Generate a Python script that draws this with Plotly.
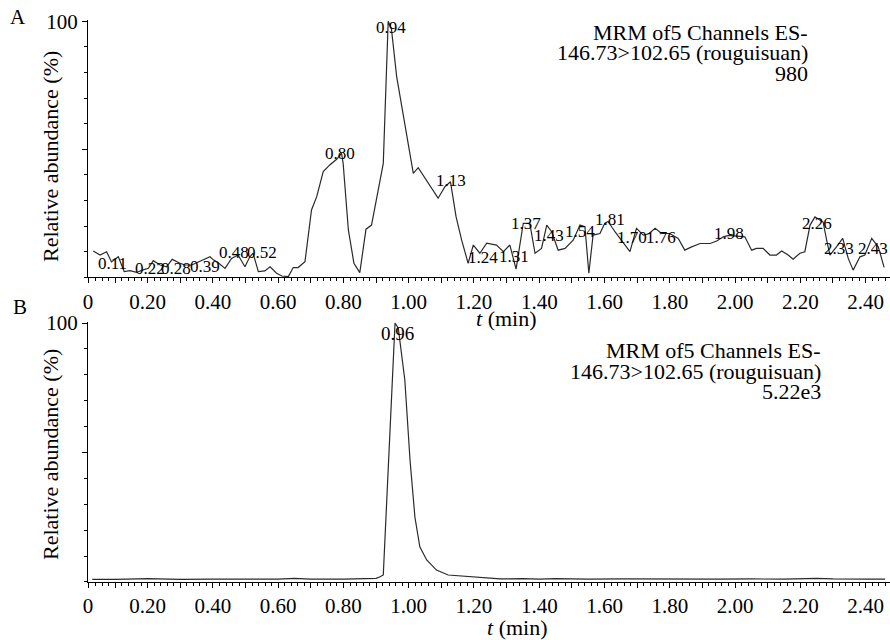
import plotly.graph_objects as go

# ---------------- data: panel A (noisy chromatogram) ----------------
a_time = [0.033, 0.054, 0.074, 0.089, 0.110, 0.128, 0.146, 0.166, 0.186, 0.202,
          0.217, 0.238, 0.258, 0.275, 0.299, 0.314, 0.335, 0.360, 0.381, 0.391,
          0.401, 0.416, 0.437, 0.457, 0.477, 0.498, 0.513, 0.523, 0.539, 0.559,
          0.575, 0.595, 0.611, 0.631, 0.646, 0.661, 0.682, 0.702, 0.718, 0.738,
          0.758, 0.779, 0.794, 0.799, 0.815, 0.832, 0.850, 0.869, 0.886, 0.903,
          0.922, 0.937, 0.947, 0.963, 0.988, 1.014, 1.029, 1.060, 1.090, 1.111,
          1.128, 1.145, 1.162, 1.182, 1.198, 1.218, 1.239, 1.269, 1.290, 1.310,
          1.329, 1.351, 1.371, 1.387, 1.407, 1.423, 1.438, 1.458, 1.479, 1.504,
          1.525, 1.540, 1.552, 1.565, 1.586, 1.601, 1.611, 1.632, 1.652, 1.678,
          1.698, 1.719, 1.736, 1.755, 1.775, 1.800, 1.826, 1.846, 1.867, 1.893,
          1.924, 1.944, 1.964, 1.981, 2.030, 2.051, 2.066, 2.086, 2.107, 2.127,
          2.143, 2.163, 2.178, 2.199, 2.214, 2.230, 2.245, 2.270, 2.281, 2.291,
          2.311, 2.330, 2.347, 2.362, 2.383, 2.398, 2.419, 2.439, 2.457]
a_abund = [10.3, 8.7, 10.0, 6.0, 8.0, 2.2, 2.6, 1.9, 2.9, 3.5,
           6.5, 4.8, 4.1, 7.0, 5.5, 4.8, 4.8, 6.1, 7.4, 8.0,
           6.8, 5.7, 3.5, 7.4, 8.7, 4.1, 8.0, 9.4, 2.2, 2.5,
           4.1, 1.6, 0.5, 0.3, 3.8, 3.8, 6.1, 26.3, 31.5, 41.3,
           43.9, 46.1, 48.4, 44.5, 18.5, 5.5, 1.8, 18.8, 20.4, 32.0,
           44.5, 100.0, 97.0, 78.4, 60.0, 40.6, 42.8, 36.7, 30.9, 35.4,
           37.3, 23.7, 14.6, 5.5, 12.6, 9.4, 13.3, 12.6, 10.0, 12.6,
           3.2, 21.1, 21.1, 9.4, 11.3, 20.4, 17.8, 10.6, 11.3, 14.5,
           20.4, 19.8, 1.6, 16.5, 17.1, 21.1, 21.8, 17.8, 14.5, 10.0,
           19.1, 16.5, 17.0, 19.1, 17.1, 17.1, 15.2, 10.6, 11.9, 13.2,
           13.2, 14.2, 15.8, 16.4, 15.8, 10.6, 11.3, 11.3, 8.7, 8.7,
           10.3, 8.7, 7.1, 9.4, 10.0, 20.4, 23.6, 21.6, 14.4, 8.7,
           11.9, 15.2, 7.4, 2.8, 8.0, 8.7, 15.2, 11.9, 3.9]

# peak labels of panel A (text, label position)
a_label_text = ["0.11", "0.22", "0.28", "0.39", "0.48", "0.52", "0.80", "0.94",
                "1.13", "1.24", "1.31", "1.37", "1.43", "1.54", "1.81", "1.70",
                "1.76", "1.98", "2.26", "2.33", "2.43"]
a_label_t = [0.091, 0.207, 0.287, 0.375, 0.464, 0.550, 0.789, 0.945,
             1.129, 1.227, 1.322, 1.359, 1.430, 1.525, 1.617, 1.684,
             1.773, 1.981, 2.251, 2.318, 2.422]
a_label_y = [5.2, 3.6, 3.6, 4.4, 9.5, 9.5, 48.2, 97.4,
             38.0, 7.9, 8.3, 21.2, 16.5, 17.7, 22.4, 15.4,
             15.4, 17.3, 21.2, 11.4, 11.4]

# ---------------- data: panel B (standard) ----------------
b_time = [0.03, 0.10, 0.20, 0.30, 0.40, 0.50, 0.60, 0.65, 0.70, 0.80,
          0.86, 0.90, 0.912, 0.922, 0.958, 0.968, 0.988, 1.004, 1.019, 1.034,
          1.055, 1.085, 1.121, 1.157, 1.188, 1.22, 1.28, 1.35, 1.40, 1.45,
          1.55, 1.65, 1.75, 1.85, 1.95, 2.05, 2.15, 2.25, 2.30, 2.40, 2.46]
b_abund = [1.0, 1.0, 1.3, 1.0, 1.1, 1.0, 1.1, 1.4, 1.1, 1.1,
           1.2, 1.4, 2.0, 2.7, 100.0, 98.0, 78.0, 47.0, 25.0, 13.6,
           8.5, 4.6, 2.7, 2.3, 2.0, 1.6, 1.2, 1.3, 1.1, 1.3,
           1.1, 1.2, 1.1, 1.2, 1.1, 1.2, 1.1, 1.4, 1.2, 1.1, 1.1]
b_label_text = ["0.96"]
b_label_t = [0.967]
b_label_y = [96.1]

header_a = ["MRM of5 Channels ES-", "146.73>102.65 (rouguisuan)", "980"]
header_b = ["MRM of5 Channels ES-", "146.73>102.65 (rouguisuan)", "5.22e3"]

x_tick_pos = [round(0.1 * i, 1) for i in range(1, 25)]
x_major = [0.017] + x_tick_pos
x_text = ["0"] + [("%.2f" % v if i % 2 == 0 else "") for i, v in zip(range(1, 25), x_tick_pos)]

# ---------------- layout geometry (pixels) ----------------
W, H = 890, 640
FONT = "Liberation Serif, Times New Roman, serif"
X_LEFT, X_RIGHT = 88, 890
x_range = [0.017, 2.475]


def py(v):
    return 1 - v / H


def px(v):
    return v / W


fig = go.Figure()
fig.add_trace(go.Scatter(x=a_time, y=a_abund, mode="lines",
                         line=dict(color="#2a2a2a", width=1.2),
                         xaxis="x", yaxis="y", showlegend=False))
fig.add_trace(go.Scatter(x=b_time, y=b_abund, mode="lines",
                         line=dict(color="#2a2a2a", width=1.2),
                         xaxis="x2", yaxis="y2", showlegend=False))

common_x = dict(range=x_range, tickmode="array", tickvals=x_major, ticktext=x_text,
                showline=True, linecolor="black", linewidth=1.2,
                ticks="outside", ticklen=5, tickcolor="black", tickwidth=1,
                showgrid=False, zeroline=False, automargin=False,
                tickfont=dict(family=FONT, size=21, color="black"),
                minor=dict(tickmode="linear", tick0=0, dtick=0.02, ticks="outside",
                           ticklen=3, tickcolor="black", tickwidth=1, showgrid=False))
common_y = dict(range=[0, 100.5], tickmode="array", tickvals=[50, 100], ticktext=["", "100"],
                showline=True, linecolor="black", linewidth=1.2,
                ticks="outside", ticklen=5, tickcolor="black", tickwidth=1,
                showgrid=False, zeroline=False, automargin=False,
                tickfont=dict(family=FONT, size=21, color="black"),
                minor=dict(tickmode="linear", tick0=0, dtick=10, ticks="outside",
                           ticklen=3, tickcolor="black", tickwidth=1, showgrid=False))

a_bottom = 277.3
a_top = a_bottom - 100.5 * 2.56
b_bottom = 582.0
b_top = b_bottom - 100.5 * 2.59

fig.update_layout(
    width=W, height=H,
    margin=dict(l=0, r=0, t=0, b=0),
    paper_bgcolor="white", plot_bgcolor="white",
    template="none",
    xaxis=dict(domain=[px(X_LEFT), px(X_RIGHT)], anchor="y", **common_x),
    yaxis=dict(domain=[py(a_bottom), py(a_top)], anchor="x", **common_y),
    xaxis2=dict(domain=[px(X_LEFT), px(X_RIGHT)], anchor="y2", **common_x),
    yaxis2=dict(domain=[py(b_bottom), py(b_top)], anchor="x2", **common_y),
)

annotations = []
for txt, t, y in zip(a_label_text, a_label_t, a_label_y):
    annotations.append(dict(x=t, y=y, xref="x", yref="y", text=txt, showarrow=False,
                            xanchor="center", yanchor="middle",
                            font=dict(family=FONT, size=17, color="black")))
for txt, t, y in zip(b_label_text, b_label_t, b_label_y):
    annotations.append(dict(x=t, y=y, xref="x2", yref="y2", text=txt, showarrow=False,
                            xanchor="center", yanchor="middle",
                            font=dict(family=FONT, size=19, color="black")))

for lines, xr, ys in [(header_a, 810, [32.5, 52.5, 74]), (header_b, 823, [350.5, 371, 391])]:
    for txt, yy in zip(lines, ys):
        annotations.append(dict(x=px(xr), y=py(yy), xref="paper", yref="paper", text=txt,
                                showarrow=False, xanchor="right", yanchor="middle",
                                font=dict(family=FONT, size=22, color="black")))

for yy in [157, 455]:
    annotations.append(dict(x=px(50), y=py(yy), xref="paper", yref="paper",
                            text="Relative abundance (%)", textangle=-90, showarrow=False,
                            xanchor="center", yanchor="middle",
                            font=dict(family=FONT, size=22, color="black")))
for xx, yy in [(506, 318), (517, 627)]:
    annotations.append(dict(x=px(xx), y=py(yy), xref="paper", yref="paper",
                            text="<i>t</i> (min)", showarrow=False,
                            xanchor="center", yanchor="middle",
                            font=dict(family=FONT, size=22, color="black")))
for txt, xx, yy in [("A", 18, 17), ("B", 20, 307)]:
    annotations.append(dict(x=px(xx), y=py(yy), xref="paper", yref="paper",
                            text=txt, showarrow=False, xanchor="center", yanchor="middle",
                            font=dict(family=FONT, size=21, color="black")))

fig.update_layout(annotations=annotations)
fig.write_html("out.html", config={"displayModeBar": False},
               post_script="document.body.style.margin='0';document.body.style.padding='0';"
                           "document.body.style.overflow='hidden';")
